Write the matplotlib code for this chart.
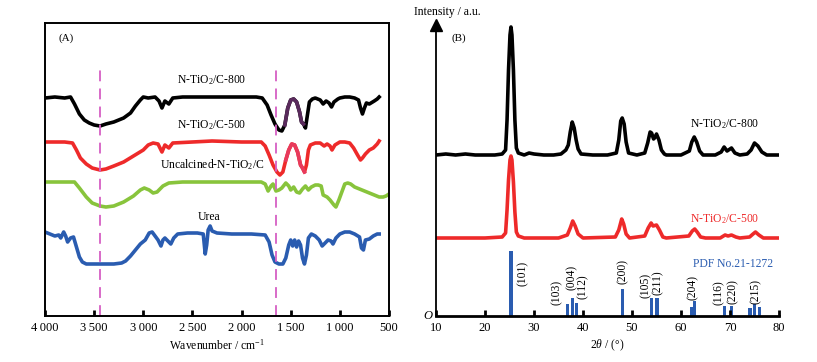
# FTIR (A) and XRD (B) of N-TiO2/C samples
import numpy as np
import matplotlib
matplotlib.use("Agg")
import matplotlib.pyplot as plt

plt.rcParams["font.family"] = ["Liberation Serif", "DejaVu Serif"]
plt.rcParams["mathtext.fontset"] = "custom"
plt.rcParams["mathtext.rm"] = "Liberation Serif"
plt.rcParams["mathtext.it"] = "Liberation Serif:italic"

# ---------------- FTIR data (wavenumber, offset intensity) ----------------
ir800_wn = [4000, 3900, 3800, 3740, 3700, 3650, 3600, 3550, 3500, 3440, 3380, 3300, 3200, 3130, 3080,
            3030, 3000, 2950, 2880, 2840, 2810, 2780, 2740, 2700, 2600, 2400, 2200, 2000, 1850, 1790,
            1740, 1700, 1660, 1620, 1590, 1560, 1530, 1500, 1470, 1440, 1410, 1390, 1370, 1350, 1330,
            1310, 1280, 1250, 1200, 1170, 1140, 1110, 1085, 1060, 1020, 1000, 950, 900, 850, 810, 790,
            770, 750, 730, 700, 650, 620, 600]
ir800_px = [98, 97, 98, 97, 104, 114, 120, 123, 125, 126, 124, 122, 118, 113, 106,
            100, 97, 98, 97, 101, 108, 101, 104, 98, 97, 97, 97, 97, 97, 98,
            105, 115, 124, 130, 131, 125, 108, 100, 99, 102, 112, 122, 124, 128, 115,
            102, 99, 98, 100, 104, 101, 103, 107, 102, 99, 98, 97, 97, 98, 100, 108,
            114, 108, 103, 104, 101, 99, 97]

ir500_wn = [4000, 3800, 3720, 3680, 3640, 3580, 3520, 3440, 3380, 3300, 3200, 3100, 3000, 2950, 2900,
            2850, 2810, 2780, 2740, 2700, 2500, 2300, 2000, 1800, 1760, 1720, 1680, 1640, 1610, 1580,
            1550, 1520, 1490, 1460, 1430, 1400, 1380, 1360, 1340, 1320, 1300, 1250, 1200, 1160, 1130,
            1100, 1080, 1050, 1000, 950, 900, 860, 820, 790, 770, 740, 700, 660, 620, 600]
ir500_px = [142, 142, 143, 150, 158, 164, 168, 170, 169, 166, 162, 156, 150, 145, 143,
            144, 152, 145, 148, 143, 142, 141, 142, 142, 146, 155, 165, 172, 175, 172,
            160, 150, 144, 145, 152, 165, 168, 172, 165, 150, 145, 143, 143, 146, 144,
            146, 150, 145, 142, 142, 143, 148, 155, 160, 158, 154, 150, 148, 144, 141]

iruc_wn = [4000, 3800, 3700, 3650, 3580, 3520, 3440, 3380, 3300, 3200, 3100, 3030, 2990, 2940, 2900,
           2860, 2800, 2740, 2600, 2400, 2200, 2000, 1800, 1760, 1730, 1700, 1680, 1650, 1620, 1590,
           1550, 1520, 1500, 1470, 1440, 1410, 1380, 1350, 1320, 1290, 1250, 1220, 1190, 1170, 1130,
           1100, 1060, 1040, 1010, 980, 950, 920, 890, 850, 800, 750, 700, 650, 600, 560, 530, 500]
iruc_px = [182, 182, 182, 188, 197, 203, 206, 207, 206, 202, 196, 190, 188, 190, 193,
           192, 186, 183, 182, 182, 182, 182, 182, 184, 191, 186, 184, 191, 190, 188,
           183, 186, 190, 187, 192, 193, 189, 186, 190, 187, 185, 185, 186, 195, 197,
           200, 205, 207, 200, 192, 184, 183, 184, 187, 189, 191, 193, 195, 197, 197, 196, 194]

irurea_wn = [4000, 3950, 3900, 3860, 3840, 3810, 3790, 3770, 3740, 3710, 3680, 3650, 3620, 3580, 3500,
             3400, 3300, 3220, 3180, 3130, 3080, 3030, 2980, 2940, 2910, 2880, 2850, 2820, 2800, 2780,
             2740, 2720, 2690, 2650, 2550, 2450, 2390, 2370, 2355, 2340, 2320, 2300, 2250, 2100, 1900,
             1760, 1720, 1690, 1660, 1620, 1580, 1550, 1520, 1500, 1480, 1460, 1440, 1420, 1400, 1380,
             1360, 1340, 1320, 1290, 1250, 1210, 1180, 1150, 1120, 1090, 1070, 1040, 1000, 950, 900,
             850, 800, 780, 760, 740, 700, 660, 620, 600]
irurea_px = [232, 234, 236, 235, 238, 232, 236, 242, 238, 237, 247, 257, 262, 264, 264,
             264, 264, 263, 261, 256, 250, 244, 240, 233, 232, 236, 240, 246, 240, 238,
             242, 244, 238, 234, 233, 233, 234, 254, 245, 230, 226, 231, 233, 234, 234,
             235, 242, 255, 262, 264, 264, 258, 245, 240, 246, 240, 247, 241, 245, 258,
             264, 255, 238, 234, 236, 240, 246, 243, 240, 241, 244, 238, 234, 232, 232,
             234, 237, 248, 250, 240, 239, 236, 234, 234]

ir_marks = [3440, 1650]

# ---------------- XRD data (2theta, offset intensity) ----------------
x800_tt = [10, 12, 14, 16, 18, 20, 22, 23.5, 24.2, 24.5, 24.8, 25.1, 25.3, 25.5, 25.8, 26.1, 26.4, 26.8,
           28, 29, 30, 32, 34, 35.5, 36.5, 37.0, 37.4, 37.8, 38.2, 38.6, 39.0, 39.6, 42, 45, 46.8,
           47.3, 47.7, 48.0, 48.4, 48.8, 49.3, 51, 52.6, 53.2, 53.7, 54.0, 54.4, 54.6, 55.0, 55.5,
           56.0, 56.6, 57, 60, 61.7, 62.2, 62.7, 63.2, 63.8, 64.5, 67, 68.2, 68.8, 69.4, 70.3, 71.0,
           72, 73.5, 74.3, 75.0, 75.7, 76.5, 77.5, 80]
x800_px = [155, 154, 155, 154, 155, 155, 155, 154, 150, 120, 70, 35, 27, 35, 70, 120, 148, 153,
           155, 153, 154, 155, 155, 154, 150, 145, 132, 122, 128, 140, 149, 154, 155, 155, 153,
           140, 121, 118, 124, 142, 153, 155, 153, 143, 132, 133, 139, 138, 134, 140,
           150, 154, 155, 155, 151, 142, 137, 142, 151, 155, 155, 152, 147, 151, 148, 153,
           155, 154, 150, 143, 146, 152, 155, 155]

x500_tt = [10, 15, 20, 23.5, 24.2, 24.5, 24.8, 25.1, 25.3, 25.5, 25.8, 26.1, 26.4, 26.8, 28, 35, 36.8,
           37.4, 37.9, 38.4, 39.0, 40, 46.6, 47.3, 47.9, 48.3, 48.8, 49.5, 52.6, 53.3, 53.9, 54.3,
           55.0, 55.6, 56.3, 57, 61.6, 62.3, 62.8, 63.3, 64, 65, 68, 69, 69.6, 70.3, 71.2, 72, 74,
           74.7, 75.2, 75.9, 76.8, 80]
x500_px = [238, 238, 238, 237, 233, 210, 180, 160, 156, 160, 182, 212, 232, 236, 238, 238, 235,
           228, 221, 226, 234, 238, 237, 230, 219, 224, 234, 238, 236, 228, 223, 226,
           225, 230, 237, 238, 236, 231, 229, 232, 237, 238, 238, 235, 236, 235, 237, 238, 237,
           234, 232, 235, 238, 238]

pdf_tt = [25.3, 36.9, 37.8, 38.6, 48.0, 53.9, 55.1, 62.1, 62.7, 68.8, 70.3, 74.1, 75.0, 76.0]
pdf_px = [251, 304, 298, 303, 289, 298, 298, 307, 301, 306, 306, 308, 304, 307]

hkl_labels = ["(101)", "(103)", "(004)", "(112)", "(200)", "(105)", "(211)", "(204)", "(116)", "(220)", "(215)"]
hkl_tt = [27.8, 34.7, 37.8, 40.0, 48.2, 52.9, 55.3, 62.5, 67.8, 70.6, 75.3]
hkl_px = [273, 292, 277, 287, 272, 285, 283, 288, 293, 292, 292]

BASE = 316  # image row of the x axes; values are counted upward from it


def up(rows):
    return BASE - np.array(rows, dtype=float)


fig = plt.figure(figsize=(8.17, 3.62), dpi=100)
fs = 8.4

# ---------------- panel A ----------------
axA = fig.add_axes([45 / 817, 46 / 362, 344 / 817, 293 / 362])
for s in axA.spines.values():
    s.set_linewidth(1.4)
lw = 2.6
axA.plot(ir800_wn, up(ir800_px), color="black", lw=lw, solid_joinstyle="round")
axA.plot(ir500_wn, up(ir500_px), color="#ee2a2a", lw=lw, solid_joinstyle="round")
axA.plot(iruc_wn, up(iruc_px), color="#88c43c", lw=lw, solid_joinstyle="round")
axA.plot(irurea_wn, up(irurea_px), color="#2a5cb0", lw=lw, solid_joinstyle="round")

# coloured segment of the 1560-1360 band
w8 = np.array(ir800_wn)
m8 = (w8 <= 1560) & (w8 >= 1360)
axA.plot(w8[m8], up(ir800_px)[m8], color="#5a2a5c", lw=lw)
w5 = np.array(ir500_wn)
m5 = (w5 <= 1550) & (w5 >= 1360)
axA.plot(w5[m5], up(ir500_px)[m5], color="#e83a5c", lw=lw)

for wn in ir_marks:
    axA.plot([wn, wn], [0, 248], ls=(0, (6, 4)), color="#d65fc4", lw=1.3)

axA.set_xlim(4000, 500)
axA.set_ylim(0, 293)
axA.set_xticks([4000, 3500, 3000, 2500, 2000, 1500, 1000, 500])
axA.set_xticklabels(["4\u2009000", "3\u2009500", "3\u2009000", "2\u2009500", "2\u2009000",
                     "1\u2009500", "1\u2009000", "500"])
axA.set_yticks([])
axA.tick_params(axis="x", direction="in", length=4, width=2, labelsize=9, pad=4)
axA.set_xlabel(r"Wavenumber / cm$^{-1}$", fontsize=fs, labelpad=3)

axA.text(2300, up([80])[0], r"N-TiO$_2$/C-800", ha="center", va="center", fontsize=fs)
axA.text(2300, up([125])[0], r"N-TiO$_2$/C-500", ha="center", va="center", fontsize=fs)
axA.text(2300, up([165])[0], r"Uncalcined-N-TiO$_2$/C", ha="center", va="center", fontsize=fs)
axA.text(2330, up([217])[0], "Urea", ha="center", va="center", fontsize=fs)
axA.text(3790, up([38])[0], "(A)", ha="center", va="center", fontsize=8)

# ---------------- panel B ----------------
axB = fig.add_axes([436 / 817, 46 / 362, 343 / 817, 291 / 362])
axB.spines["top"].set_visible(False)
axB.spines["right"].set_visible(False)
axB.spines["left"].set_linewidth(1.3)
axB.spines["bottom"].set_linewidth(2.0)

axB.plot(x800_tt, up(x800_px), color="black", lw=2.6, solid_joinstyle="round")
axB.plot(x500_tt, up(x500_px), color="#ee2a2a", lw=2.6, solid_joinstyle="round")
axB.bar(pdf_tt, up(pdf_px), width=0.65, color="#2a5cb0")

for lab, t, p in zip(hkl_labels, hkl_tt, hkl_px):
    axB.text(t, up([p])[0], lab, rotation=90, ha="center", va="center", fontsize=fs)

axB.text(70.6, up([264])[0], "PDF No.21-1272", color="#2a5cb0", ha="center", va="center", fontsize=fs)
axB.text(69.0, up([124])[0], r"N-TiO$_2$/C-800", color="black", ha="center", va="center", fontsize=fs)
axB.text(69.0, up([219])[0], r"N-TiO$_2$/C-500", color="#ee2a2a", ha="center", va="center", fontsize=fs)
axB.text(14.6, up([38])[0], "(B)", ha="center", va="center", fontsize=8)

axB.set_xlim(10, 80)
axB.set_ylim(0, 291)
axB.set_xticks(range(10, 81, 10))
axB.set_yticks([])
axB.tick_params(axis="x", direction="in", length=4, width=2, labelsize=9, pad=4)
axB.set_xlabel(r"2$\mathit{\theta}$ / (°)", fontsize=fs, labelpad=3)
axB.plot([0], [1], marker="^", markersize=9, color="black", transform=axB.transAxes, clip_on=False)
axB.text(-0.025, 0, "O", style="italic", transform=axB.transAxes, ha="center", va="center", fontsize=9)
fig.text(414 / 817, 1 - 12 / 362, "Intensity / a.u.", ha="left", va="center", fontsize=fs)

fig.savefig("out.png", dpi=100)
